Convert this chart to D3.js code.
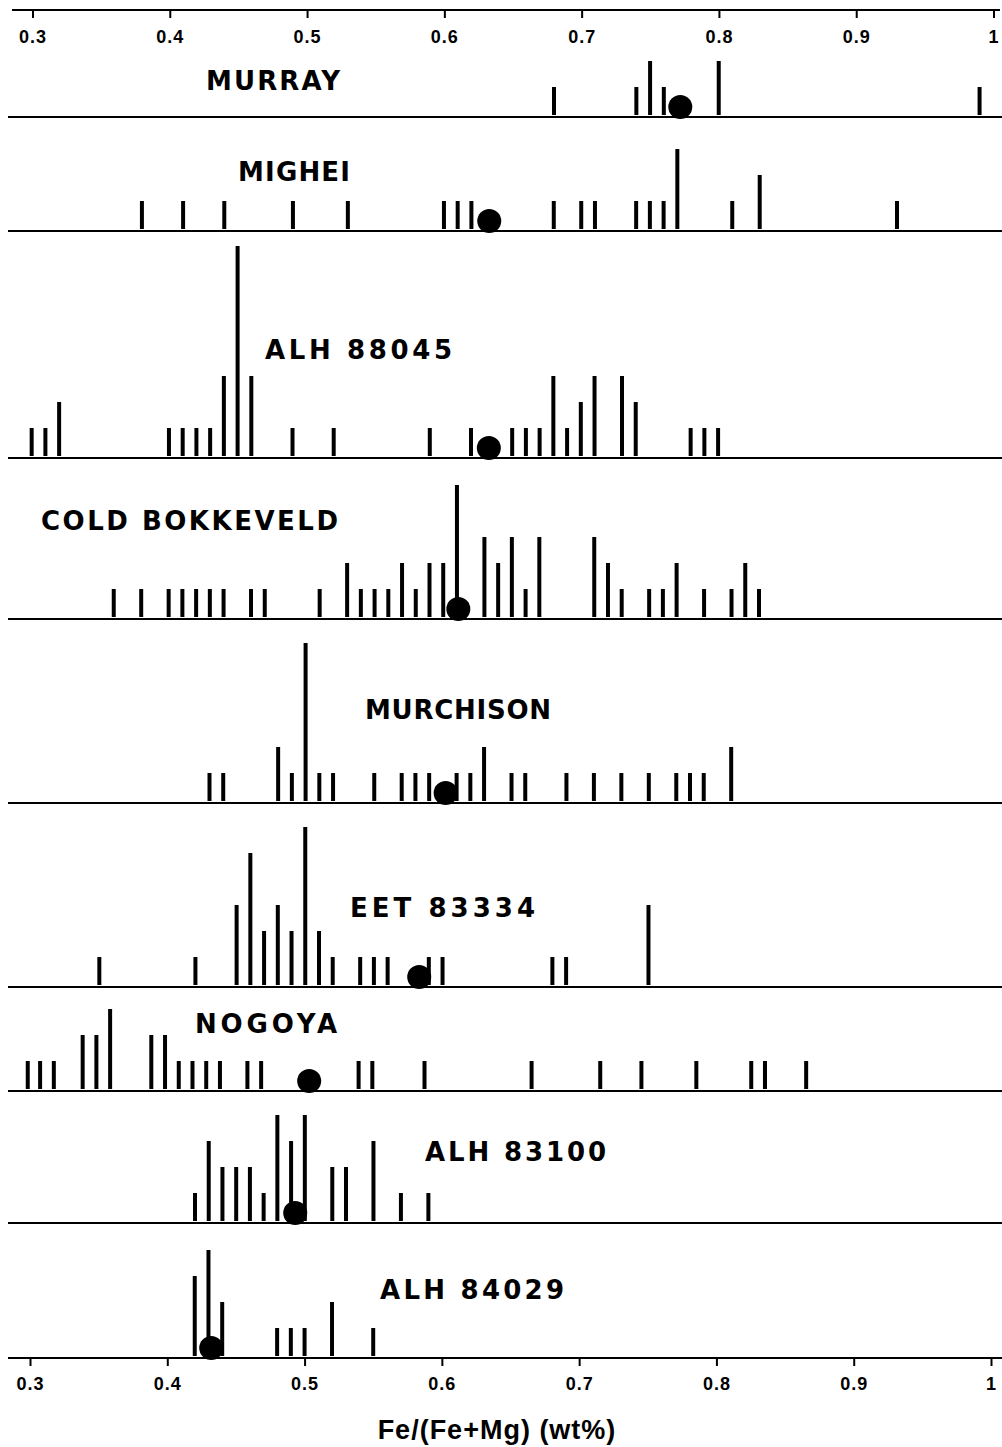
<!DOCTYPE html>
<html>
<head>
<meta charset="utf-8">
<script src="https://cdn.jsdelivr.net/npm/d3@7"></script>
<style>
  html, body { margin: 0; padding: 0; background: #fff; }
  svg { display: block; }
</style>
</head>
<body>
<svg id="chart" width="1002" height="1447"></svg>
<script>
// ---------------- DATA ----------------
const xTicks = [0.3, 0.4, 0.5, 0.6, 0.7, 0.8, 0.9, 1.0];
const meteorites = ["MURRAY", "MIGHEI", "ALH 88045", "COLD BOKKEVELD", "MURCHISON",
                    "EET 83334", "NOGOYA", "ALH 83100", "ALH 84029"];
// mean Fe/(Fe+Mg) (filled dots)
const meanFe = [0.772, 0.633, 0.633, 0.611, 0.602, 0.583, 0.503, 0.493, 0.432];

const murrayFe = [0.68, 0.74, 0.75, 0.76, 0.80, 0.99];
const murrayN  = [1, 1, 2, 1, 2, 1];

const migheiFe = [0.38, 0.41, 0.44, 0.49, 0.53, 0.60, 0.61, 0.62, 0.68, 0.70, 0.71, 0.74, 0.75, 0.76, 0.77, 0.81, 0.83, 0.93];
const migheiN  = [1, 1, 1, 1, 1, 1, 1, 1, 1, 1, 1, 1, 1, 1, 3, 1, 2, 1];

const alh88045Fe = [0.30, 0.31, 0.32, 0.40, 0.41, 0.42, 0.43, 0.44, 0.45, 0.46, 0.49, 0.52, 0.59, 0.62, 0.65, 0.66, 0.67, 0.68, 0.69, 0.70, 0.71, 0.73, 0.74, 0.78, 0.79, 0.80];
const alh88045N  = [1, 1, 2, 1, 1, 1, 1, 3, 8, 3, 1, 1, 1, 1, 1, 1, 1, 3, 1, 2, 3, 3, 2, 1, 1, 1];

const coldBokkeveldFe = [0.36, 0.38, 0.40, 0.41, 0.42, 0.43, 0.44, 0.46, 0.47, 0.51, 0.53, 0.54, 0.55, 0.56, 0.57, 0.58, 0.59, 0.60, 0.61, 0.63, 0.64, 0.65, 0.66, 0.67, 0.71, 0.72, 0.73, 0.75, 0.76, 0.77, 0.79, 0.81, 0.82, 0.83];
const coldBokkeveldN  = [1, 1, 1, 1, 1, 1, 1, 1, 1, 1, 2, 1, 1, 1, 2, 1, 2, 2, 5, 3, 2, 3, 1, 3, 3, 2, 1, 1, 1, 2, 1, 1, 2, 1];

const murchisonFe = [0.43, 0.44, 0.48, 0.49, 0.50, 0.51, 0.52, 0.55, 0.57, 0.58, 0.59, 0.61, 0.62, 0.63, 0.65, 0.66, 0.69, 0.71, 0.73, 0.75, 0.77, 0.78, 0.79, 0.81];
const murchisonN  = [1, 1, 2, 1, 6, 1, 1, 1, 1, 1, 1, 1, 1, 2, 1, 1, 1, 1, 1, 1, 1, 1, 1, 2];

const eet83334Fe = [0.35, 0.42, 0.45, 0.46, 0.47, 0.48, 0.49, 0.50, 0.51, 0.52, 0.54, 0.55, 0.56, 0.59, 0.60, 0.68, 0.69, 0.75];
const eet83334N  = [1, 1, 3, 5, 2, 3, 2, 6, 2, 1, 1, 1, 1, 1, 1, 1, 1, 3];

const nogoyaFe = [0.298, 0.307, 0.317, 0.338, 0.348, 0.358, 0.388, 0.398, 0.408, 0.418, 0.428, 0.438, 0.458, 0.468, 0.539, 0.549, 0.587, 0.665, 0.715, 0.745, 0.785, 0.825, 0.835, 0.865];
const nogoyaN  = [1, 1, 1, 2, 2, 3, 2, 2, 1, 1, 1, 1, 1, 1, 1, 1, 1, 1, 1, 1, 1, 1, 1, 1];

const alh83100Fe = [0.42, 0.43, 0.44, 0.45, 0.46, 0.47, 0.48, 0.49, 0.50, 0.52, 0.53, 0.55, 0.57, 0.59];
const alh83100N  = [1, 3, 2, 2, 2, 1, 4, 3, 4, 2, 2, 3, 1, 1];

const alh84029Fe = [0.42, 0.43, 0.44, 0.48, 0.49, 0.50, 0.52, 0.55];
const alh84029N  = [3, 4, 2, 1, 1, 1, 2, 1];

const seriesFe = [murrayFe, migheiFe, alh88045Fe, coldBokkeveldFe, murchisonFe, eet83334Fe, nogoyaFe, alh83100Fe, alh84029Fe];
const seriesN  = [murrayN, migheiN, alh88045N, coldBokkeveldN, murchisonN, eet83334N, nogoyaN, alh83100N, alh84029N];
const axisTitle = "Fe/(Fe+Mg) (wt%)";

// ---------------- LAYOUT ----------------
const panelBase   = [117, 231, 458, 619, 803, 987, 1091, 1223, 1358]; // baseline y of each strip
const labelLeft   = [206, 238, 265, 41, 365, 350, 195, 425, 380];
const labelBottom = [90, 181, 359, 530, 719, 917, 1033, 1161, 1299];
const labelWidth  = [134, 112, 187, 297, 186, 185, 142, 181, 184];
const unitH = 26;        // px per count
const topAxisY = 10;
const bottomY = panelBase[panelBase.length - 1];
// slight horizontal skew of the scanned original (top a little to the right)
const skew = y => 2.5 * (bottomY - y) / (bottomY - topAxisY);

const svg = d3.select("#chart");
const x = d3.scaleLinear().domain([0.3, 1.0]).range([30, 991]);
const h = d3.scaleLinear().domain([0, 1]).range([0, unitH]);

const fmt = d => d === 1 ? "1" : d3.format(".1f")(d);
const font = "'Liberation Sans', Arial, Helvetica, sans-serif";
const labelFont = "'DejaVu Sans', Verdana, sans-serif";

// top axis
svg.append("line").attr("x1", 12).attr("x2", 1000)
  .attr("y1", topAxisY).attr("y2", topAxisY)
  .attr("stroke", "#000").attr("stroke-width", 2);
const topAxis = svg.append("g").attr("transform", `translate(${skew(topAxisY)},${topAxisY})`)
  .call(d3.axisBottom(x).tickValues(xTicks).tickFormat(fmt).tickSize(8).tickPadding(12));
topAxis.select(".domain").remove();

// bottom axis
const bottomAxis = svg.append("g").attr("transform", `translate(0,${bottomY})`)
  .call(d3.axisBottom(x).tickValues(xTicks).tickFormat(fmt).tickSize(8).tickPadding(11));
bottomAxis.select(".domain").remove();

svg.selectAll(".tick line").attr("stroke", "#000").attr("stroke-width", 2);
svg.selectAll(".tick text")
  .attr("font-family", font).attr("font-weight", "bold")
  .attr("font-size", 18).attr("letter-spacing", 1).attr("fill", "#000");

// panels
meteorites.forEach((name, i) => {
  const base = panelBase[i];
  svg.append("line").attr("x1", 8).attr("x2", 1002)
    .attr("y1", base).attr("y2", base)
    .attr("stroke", "#000").attr("stroke-width", 2);

  const g = svg.append("g").attr("class", "panel")
    .attr("transform", `translate(${skew(base)},0)`);

  const bars = seriesFe[i].map((v, j) => ({ v, n: seriesN[i][j] }));
  g.selectAll("line.bar").data(bars).enter().append("line")
    .attr("class", "bar")
    .attr("x1", d => x(d.v)).attr("x2", d => x(d.v))
    .attr("y1", base - 2)
    .attr("y2", d => base - 4 - h(d.n))
    .attr("stroke", "#000").attr("stroke-width", 4);

  g.append("circle")
    .attr("cx", x(meanFe[i])).attr("cy", base - 10).attr("r", 12)
    .attr("fill", "#000");

  svg.append("text")
    .attr("x", labelLeft[i]).attr("y", labelBottom[i])
    .attr("font-family", labelFont).attr("font-weight", "bold").attr("font-size", 26)
    .attr("textLength", labelWidth[i]).attr("lengthAdjust", "spacing")
    .attr("fill", "#000")
    .text(name);
});

// axis title
svg.append("text")
  .attr("x", 497).attr("y", 1439)
  .attr("text-anchor", "middle")
  .attr("font-family", font).attr("font-weight", "bold").attr("font-size", 27)
  .attr("letter-spacing", 1)
  .attr("fill", "#000")
  .text(axisTitle);
</script>
</body>
</html>
